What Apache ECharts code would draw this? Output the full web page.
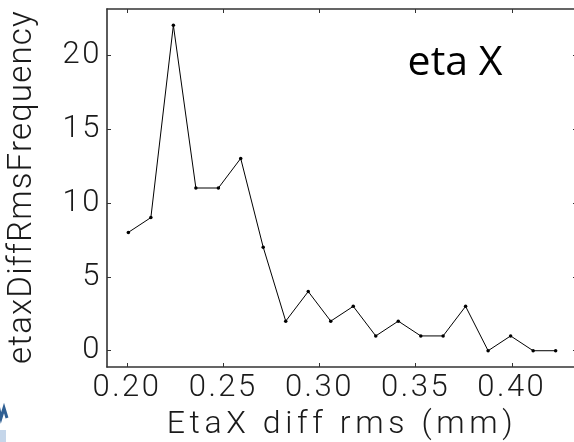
<!DOCTYPE html>
<html>
<head>
<meta charset="utf-8">
<style>
  html, body { margin: 0; padding: 0; background: #ffffff; }
  #chart { width: 574px; height: 442px; }
</style>
<script src="https://cdn.jsdelivr.net/npm/echarts@6/dist/echarts.min.js"></script>
</head>
<body>
<div id="chart"></div>
<script>
// Histogram bin centres (mm) and counts per bin
const binCentres = [0.2007, 0.2124, 0.2241, 0.2358, 0.2475, 0.2591, 0.2708, 0.2825, 0.2942, 0.3059,
                    0.3176, 0.3293, 0.3410, 0.3527, 0.3643, 0.3760, 0.3877, 0.3994, 0.4111, 0.4228];
const frequency = [8, 9, 22, 11, 11, 13, 7, 2, 4, 2, 3, 1, 2, 1, 1, 3, 0, 1, 0, 0];

const xTicks = [0.20, 0.25, 0.30, 0.35, 0.40];
const yTicks = [0, 5, 10, 15, 20];
const xRange = [0.1896, 0.4339];
const yRange = [-1.1, 23.1];

const xName = 'EtaX diff rms (mm)';
const yName = 'etaxDiffRmsFrequency';
const panelTitle = 'eta X';

const seriesData = binCentres.map((x, i) => [x, frequency[i]]);

const labelFont = 'Roboto, "DejaVu Sans", sans-serif';
const labelColor = '#1a1a1a';
const frameColor = '#333';

// Wide tracking for the light axis lettering (canvas letterSpacing)
const tracking = new Map([[xName, 4.6], [yName, 1.2]]);
const baseFillText = CanvasRenderingContext2D.prototype.fillText;
CanvasRenderingContext2D.prototype.fillText = function (text, x, y, maxWidth) {
  if ('letterSpacing' in this) {
    let ls = 0;
    if (this.font.indexOf('Roboto') >= 0) {
      ls = tracking.has(text) ? tracking.get(text) : 2.5;
    }
    this.letterSpacing = ls + 'px';
  }
  return maxWidth === undefined
    ? baseFillText.call(this, text, x, y)
    : baseFillText.call(this, text, x, y, maxWidth);
};

const chart = echarts.init(document.getElementById('chart'), null, { renderer: 'canvas' });

function boxAxis(extra) {
  return Object.assign({
    type: 'value',
    axisLine: { show: true, onZero: false, lineStyle: { color: frameColor, width: 1.6 } },
    splitLine: { show: false },
  }, extra);
}

function ticks(values) {
  return { show: true, inside: true, length: 4, customValues: values, lineStyle: { color: frameColor, width: 1 } };
}

chart.setOption({
  animation: false,
  backgroundColor: '#ffffff',
  grid: { left: 107, top: 9, right: -3, bottom: 75, containLabel: false, outerBoundsMode: 'none' },
  xAxis: [
    boxAxis({
      position: 'bottom',
      min: xRange[0], max: xRange[1],
      axisTick: ticks(xTicks),
      axisLabel: {
        customValues: xTicks,
        formatter: v => v.toFixed(2),
        fontFamily: labelFont, fontWeight: 300, fontSize: 31, color: labelColor, margin: 6
      },
      name: xName,
      nameLocation: 'middle',
      nameGap: 41,
      nameTextStyle: { fontFamily: labelFont, fontWeight: 300, fontSize: 32, color: labelColor, verticalAlign: 'top' }
    }),
    boxAxis({
      position: 'top',
      min: xRange[0], max: xRange[1],
      axisTick: ticks(xTicks),
      axisLabel: { show: false }
    })
  ],
  yAxis: [
    boxAxis({
      position: 'left',
      min: yRange[0], max: yRange[1],
      axisTick: ticks(yTicks),
      axisLabel: {
        customValues: yTicks,
        fontFamily: labelFont, fontWeight: 300, fontSize: 31, color: labelColor, margin: 5
      }
    }),
    boxAxis({
      position: 'right',
      min: yRange[0], max: yRange[1],
      axisTick: ticks(yTicks),
      axisLabel: { show: false }
    })
  ],
  series: [{
    type: 'line',
    data: seriesData,
    xAxisIndex: 0,
    yAxisIndex: 0,
    symbol: 'circle',
    symbolSize: 3.5,
    showAllSymbol: true,
    lineStyle: { color: '#000', width: 1 },
    itemStyle: { color: '#000' },
    clip: false
  }],
  graphic: [
    {
      type: 'text',
      x: 23, y: 187,
      rotation: Math.PI / 2,
      style: {
        text: yName,
        font: '300 33px Roboto, "DejaVu Sans", sans-serif',
        fill: labelColor,
        textAlign: 'center',
        textVerticalAlign: 'middle'
      }
    },
    {
      type: 'text',
      x: 455, y: 63,
      style: {
        text: panelTitle,
        font: '41px "Open Sans", sans-serif',
        fill: '#000',
        textAlign: 'center',
        textVerticalAlign: 'middle'
      }
    },
    // partially visible logo mark in the lower-left corner
    {
      type: 'polyline',
      shape: { points: [[-2, 405], [1, 418], [4, 408], [7, 418]] },
      style: { stroke: '#2f5f93', lineWidth: 3, fill: null }
    },
    {
      type: 'rect',
      shape: { x: 0, y: 430, width: 6, height: 12 },
      style: { fill: '#c5d6ea' }
    }
  ]
});
</script>
</body>
</html>
